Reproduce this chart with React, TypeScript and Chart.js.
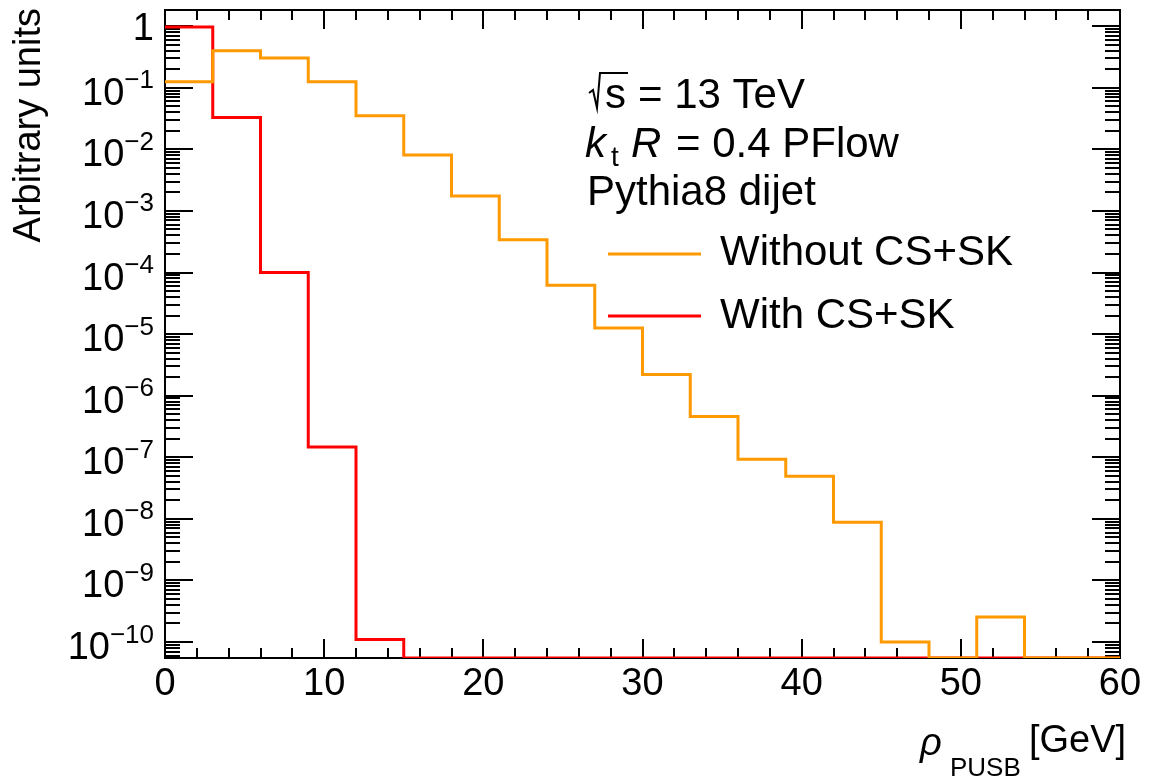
import React, { useEffect, useRef } from 'react';
import { Chart, registerables } from 'chart.js';

Chart.register(...registerables);

// ---------------- data ----------------
const binEdges = [0, 3, 6, 9, 12, 15, 18, 21, 24, 27, 30, 33, 36, 39, 42, 45, 48, 51, 54, 57, 60];
const withoutCSSK = [
  0.125, 0.4, 0.304, 0.125, 0.0351, 0.0081, 0.00174, 3.4e-4, 6.2e-5, 1.25e-5,
  2.2e-6, 4.6e-7, 9.3e-8, 4.9e-8, 8.8e-9, 1.0e-10, 0, 2.55e-10, 0, 0,
];
const withCSSK = [
  0.97, 0.033, 1.0e-4, 1.47e-7, 1.1e-10, 0, 0, 0, 0, 0,
  0, 0, 0, 0, 0, 0, 0, 0, 0, 0,
];
const seriesLabels = ['Without CS+SK', 'With CS+SK'];
const seriesColors = ['#ff9900', '#ff0000'];

const xTickLabels = ['0', '10', '20', '30', '40', '50', '60'];
const xTickValues = [0, 10, 20, 30, 40, 50, 60];
const xMinorTickValues = [2, 4, 6, 8, 12, 14, 16, 18, 22, 24, 26, 28, 32, 34, 36, 38, 42, 44, 46, 48, 52, 54, 56, 58];
const yDecadeExponents = [0, -1, -2, -3, -4, -5, -6, -7, -8, -9, -10];
const yMinorMantissas = [2, 3, 4, 5, 6, 7, 8, 9];

const X_MIN = 0;
const X_MAX = 60;
const Y_MIN = 5.5e-11;
const Y_MAX = 1.83;

const yTitle = 'Arbitrary units';
const infoLine3 = 'Pythia8 dijet';

// ---------------- helpers ----------------
const FONT = "'Liberation Sans', Arial, Helvetica, sans-serif";

function histPoints(values: number[]) {
  const pts: { x: number; y: number }[] = [];
  for (let i = 0; i < values.length; i++) {
    pts.push({ x: binEdges[i], y: values[i] > 0 ? values[i] : Y_MIN });
  }
  const last = values[values.length - 1];
  pts.push({ x: binEdges[binEdges.length - 1], y: last > 0 ? last : Y_MIN });
  return pts;
}

const rootStylePlugin = {
  id: 'rootStyle',
  beforeDatasetsDraw(chart: any) {
    const ctx: CanvasRenderingContext2D = chart.ctx;
    const { left, right, top, bottom } = chart.chartArea;
    const xs = chart.scales.x;
    const ys = chart.scales.y;
    ctx.save();

    // frame
    ctx.strokeStyle = '#000';
    ctx.lineWidth = 2;
    ctx.strokeRect(left, top, right - left, bottom - top);

    // x ticks (inside, bottom and top)
    ctx.lineWidth = 2;
    const drawXTick = (v: number, len: number) => {
      const px = Math.round(xs.getPixelForValue(v));
      ctx.beginPath();
      ctx.moveTo(px, bottom);
      ctx.lineTo(px, bottom - len);
      ctx.moveTo(px, top);
      ctx.lineTo(px, top + len);
      ctx.stroke();
    };
    xTickValues.forEach((v) => drawXTick(v, 19));
    xMinorTickValues.forEach((v) => drawXTick(v, 10));

    // y ticks (inside, left and right)
    const drawYTick = (v: number, len: number) => {
      if (v < Y_MIN || v > Y_MAX) return;
      const py = Math.round(ys.getPixelForValue(v));
      ctx.beginPath();
      ctx.moveTo(left, py);
      ctx.lineTo(left + len, py);
      ctx.moveTo(right, py);
      ctx.lineTo(right - len, py);
      ctx.stroke();
    };
    const allExps = [1, ...yDecadeExponents, -11];
    allExps.forEach((e) => {
      drawYTick(Math.pow(10, e), 28);
      yMinorMantissas.forEach((m) => drawYTick(m * Math.pow(10, e), 15));
    });

    // x tick labels
    ctx.fillStyle = '#000';
    ctx.font = `38px ${FONT}`;
    ctx.textAlign = 'center';
    ctx.textBaseline = 'alphabetic';
    xTickValues.forEach((v, i) => {
      ctx.fillText(xTickLabels[i], xs.getPixelForValue(v), 695);
    });

    // y tick labels
    const labelRight = 154;
    yDecadeExponents.forEach((e) => {
      const py = ys.getPixelForValue(Math.pow(10, e));
      if (e === 0) {
        ctx.font = `38px ${FONT}`;
        ctx.textAlign = 'right';
        ctx.fillText('1', labelRight, py + 13.5);
        return;
      }
      const expText = '\u2212' + String(-e);
      ctx.font = `26px ${FONT}`;
      const expW = ctx.measureText(expText).width;
      ctx.textAlign = 'left';
      ctx.fillText(expText, labelRight - expW, py + 0.5);
      ctx.font = `38px ${FONT}`;
      ctx.textAlign = 'right';
      ctx.fillText('10', labelRight - expW, py + 17);
    });

    // y title
    ctx.save();
    ctx.translate(40, 8);
    ctx.rotate(-Math.PI / 2);
    ctx.font = `38px ${FONT}`;
    ctx.textAlign = 'right';
    ctx.fillText(yTitle, 0, 0);
    ctx.restore();

    // x title: rho_PUSB [GeV]
    ctx.textAlign = 'left';
    ctx.font = `italic 38px ${FONT}`;
    ctx.fillText('\u03c1', 920, 755);
    ctx.font = `26px ${FONT}`;
    ctx.fillText('PUSB', 950, 776);
    ctx.font = `38px ${FONT}`;
    ctx.fillText('[GeV]', 1029, 752);

    // info text
    // sqrt(s) = 13 TeV
    ctx.lineWidth = 2;
    ctx.beginPath();
    ctx.moveTo(589, 93);
    ctx.lineTo(593, 90);
    ctx.lineTo(597, 108);
    ctx.lineTo(600, 73);
    ctx.lineTo(628, 73);
    ctx.stroke();
    ctx.font = `42px ${FONT}`;
    ctx.fillText('s', 605, 108);
    ctx.fillText('= 13 TeV', 638, 108);
    // k_t R = 0.4 PFlow
    ctx.font = `italic 42px ${FONT}`;
    ctx.fillText('k', 585, 157);
    ctx.font = `28px ${FONT}`;
    ctx.fillText('t', 611, 166);
    ctx.font = `italic 42px ${FONT}`;
    ctx.fillText('R', 631, 157);
    ctx.font = `42px ${FONT}`;
    ctx.fillText('= 0.4 PFlow', 676, 157);
    // Pythia8 dijet
    ctx.fillText(infoLine3, 587, 205);

    // legend
    const legendY = [254, 316];
    const legendBase = [265, 328];
    seriesLabels.forEach((lab, i) => {
      ctx.strokeStyle = seriesColors[i];
      ctx.lineWidth = 3;
      ctx.beginPath();
      ctx.moveTo(608, legendY[i]);
      ctx.lineTo(701, legendY[i]);
      ctx.stroke();
      ctx.fillStyle = '#000';
      ctx.font = `42px ${FONT}`;
      ctx.fillText(lab, 720, legendBase[i]);
    });

    ctx.restore();
  },
};

export default function App() {
  const canvasRef = useRef<HTMLCanvasElement | null>(null);

  useEffect(() => {
    document.body.style.margin = '0';
    document.body.style.overflow = 'hidden';
    const canvas = canvasRef.current;
    if (!canvas) return;
    const chart = new Chart(canvas, {
      type: 'line',
      data: {
        datasets: [
          {
            label: seriesLabels[0],
            data: histPoints(withoutCSSK),
            borderColor: seriesColors[0],
            borderWidth: 3,
            stepped: 'before',
            pointRadius: 0,
            fill: false,
          },
          {
            label: seriesLabels[1],
            data: histPoints(withCSSK),
            borderColor: seriesColors[1],
            borderWidth: 3,
            stepped: 'before',
            pointRadius: 0,
            fill: false,
          },
        ],
      },
      options: {
        animation: false,
        responsive: false,
        maintainAspectRatio: false,
        devicePixelRatio: 1,
        parsing: false,
        layout: { padding: { left: 165, top: 10, right: 31, bottom: 123 } },
        plugins: {
          legend: { display: false },
          tooltip: { enabled: false },
        },
        scales: {
          x: { type: 'linear', min: X_MIN, max: X_MAX, display: false },
          y: { type: 'logarithmic', min: Y_MIN, max: Y_MAX, display: false },
        },
      },
      plugins: [rootStylePlugin],
    });
    return () => chart.destroy();
  }, []);

  return <canvas ref={canvasRef} width={1151} height={781} style={{ display: 'block' }} />;
}
